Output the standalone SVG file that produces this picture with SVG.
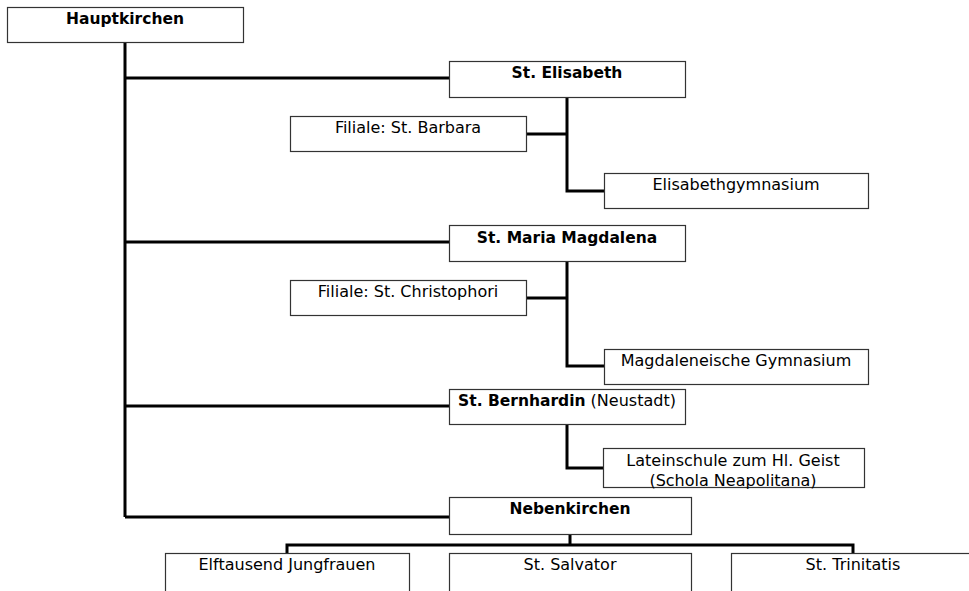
<svg xmlns="http://www.w3.org/2000/svg" width="969" height="591" viewBox="0 0 969 591">
<style>
.box{fill:#fff;stroke:#333;stroke-width:1.2}
.t{font-family:"DejaVu Sans",Verdana,sans-serif;font-size:16px;fill:#000;text-anchor:middle}
.b{font-weight:bold;font-size:15.5px}
.c{fill:none;stroke:#000;stroke-width:3}
</style>
<rect width="969" height="591" fill="#fff"/>
<g id="connectors">
<path class="c" d="M125,42V517M125,78H449M125,242H449M125,406H449M125,517H449"/>
<path class="c" d="M567,97V191H604M526,134H567"/>
<path class="c" d="M567,261V366H604M526,298H567"/>
<path class="c" d="M567,424V468H604"/>
<path class="c" d="M570,534V545M287,553V545H853V553"/>
</g>
<g id="hauptkirchen"><rect class="box" x="7.5" y="7.5" width="236" height="35"/><text class="t b" x="125" y="24">Hauptkirchen</text></g>
<g id="elisabeth"><rect class="box" x="449.5" y="61.5" width="236" height="36"/><text class="t b" x="567" y="78">St. Elisabeth</text></g>
<g id="barbara"><rect class="box" x="290.5" y="116.5" width="236" height="35"/><text class="t" x="408" y="133">Filiale: St. Barbara</text></g>
<g id="elisabethgymnasium"><rect class="box" x="604.5" y="173.5" width="264" height="35"/><text class="t" x="736" y="190">Elisabethgymnasium</text></g>
<g id="magdalena"><rect class="box" x="449.5" y="225.5" width="236" height="36"/><text class="t b" x="567" y="243">St. Maria Magdalena</text></g>
<g id="christophori"><rect class="box" x="290.5" y="280.5" width="236" height="35"/><text class="t" x="408" y="297">Filiale: St. Christophori</text></g>
<g id="magdalenegymnasium"><rect class="box" x="604.5" y="349.5" width="264" height="35"/><text class="t" x="736" y="366">Magdaleneische Gymnasium</text></g>
<g id="bernhardin"><rect class="box" x="449.5" y="389.5" width="236" height="35"/><text class="t" x="567" y="406"><tspan class="b">St. Bernhardin</tspan> (Neustadt)</text></g>
<g id="lateinschule"><rect class="box" x="603.5" y="448.5" width="261" height="39"/><text class="t" x="733" y="466">Lateinschule zum Hl. Geist</text><text class="t" x="733" y="486">(Schola Neapolitana)</text></g>
<g id="nebenkirchen"><rect class="box" x="449.5" y="497.5" width="242" height="37"/><text class="t b" x="570" y="514">Nebenkirchen</text></g>
<g id="elftausend"><rect class="box" x="165.5" y="553.5" width="244" height="45"/><text class="t" x="287" y="570">Elftausend Jungfrauen</text></g>
<g id="salvator"><rect class="box" x="449.5" y="553.5" width="242" height="45"/><text class="t" x="570" y="570">St. Salvator</text></g>
<g id="trinitatis"><rect class="box" x="731.5" y="553.5" width="244" height="45"/><text class="t" x="853" y="570">St. Trinitatis</text></g>
</svg>
